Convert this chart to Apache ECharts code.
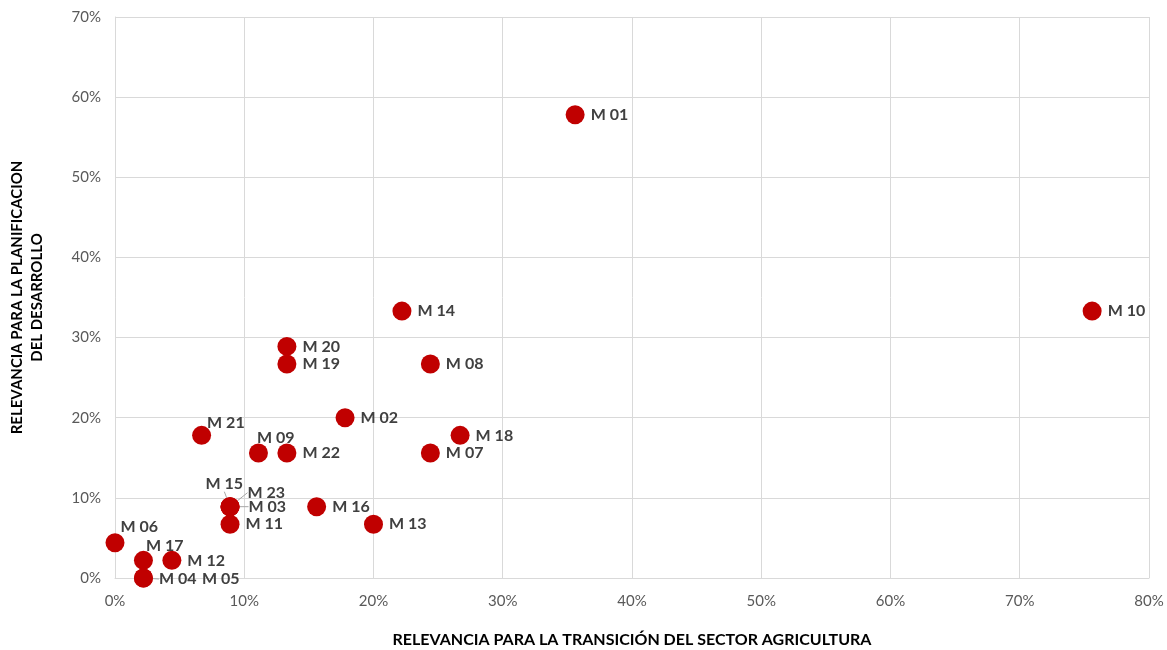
<!DOCTYPE html>
<html><head><meta charset="utf-8">
<script src="https://cdn.jsdelivr.net/npm/echarts@6/dist/echarts.min.js"></script>
<style>html,body{margin:0;padding:0;background:#fff}#c{width:1167px;height:650px}</style>
</head><body><div id="c"></div>
<script>
const names = ['M 01','M 02','M 03','M 04','M 05','M 06','M 07','M 08','M 09','M 10','M 11','M 12','M 13','M 14','M 15','M 16','M 17','M 18','M 19','M 20','M 21','M 22','M 23'];
const xVals = [0.356,0.178,0.089,0.022,0.022,0.000,0.244,0.244,0.111,0.756,0.089,0.044,0.200,0.222,0.089,0.156,0.022,0.267,0.133,0.133,0.067,0.133,0.089];
const yVals = [0.578,0.200,0.089,0.000,0.000,0.044,0.156,0.267,0.156,0.333,0.067,0.022,0.067,0.333,0.089,0.089,0.022,0.178,0.267,0.289,0.178,0.156,0.089];
const xTicks = [0,0.1,0.2,0.3,0.4,0.5,0.6,0.7,0.8];
const yTicks = [0,0.1,0.2,0.3,0.4,0.5,0.6,0.7];

// label offsets (style): left edge of text relative to point center, vertical middle
const labelOffsets = {
  'M 21':[5,-13], 'M 09':[-2,-15], 'M 06':[5,-16], 'M 17':[2,-15],
  'M 15':[-25,-23], 'M 23':[17,-14], 'M 03':[18,0], 'M 04':[15,1], 'M 05':[58,1]
};
const withLine = {'M 15':1,'M 23':1,'M 03':1,'M 04':1};

const data = names.map((n,i)=>({
  name:n, value:[xVals[i], yVals[i]],
  labelLine: withLine[n] ? {show:true, lineStyle:{color:'#a6a6a6', width:1}} : {show:false}
}));

const pct = v => Math.round(v*100)+'%';
const chart = echarts.init(document.getElementById('c'));
chart.setOption({
  animation:false,
  grid:{left:115, right:18, top:17, bottom:72, containLabel:false, outerBoundsMode:'none'},
  xAxis:{
    type:'value', min:xTicks[0], max:xTicks[xTicks.length-1], interval:0.1,
    name:'RELEVANCIA PARA LA TRANSICIÓN DEL SECTOR AGRICULTURA',
    nameLocation:'middle', nameGap:54,
    nameTextStyle:{fontFamily:'Lato', fontWeight:'bold', fontSize:16, color:'#000'},
    axisLine:{show:true, lineStyle:{color:'#d9d9d9'}},
    axisTick:{show:false},
    splitLine:{show:true, lineStyle:{color:'#d9d9d9'}},
    axisLabel:{formatter:pct, color:'#595959', fontFamily:'Lato', fontSize:15, margin:16}
  },
  yAxis:{
    type:'value', min:yTicks[0], max:yTicks[yTicks.length-1], interval:0.1,
    name:'RELEVANCIA PARA LA PLANIFICACION\nDEL DESARROLLO',
    nameLocation:'middle', nameGap:68, nameRotate:90,
    nameTextStyle:{fontFamily:'Lato', fontWeight:'bold', fontSize:15, color:'#000', lineHeight:20},
    axisLine:{show:true, lineStyle:{color:'#d9d9d9'}},
    axisTick:{show:false},
    splitLine:{show:true, lineStyle:{color:'#d9d9d9'}},
    axisLabel:{formatter:pct, color:'#595959', fontFamily:'Lato', fontSize:15, margin:14}
  },
  series:[{
    type:'scatter', symbolSize:19,
    itemStyle:{color:'#C00000', opacity:1},
    label:{show:true, position:'right', distance:6, formatter:'{b}',
      fontFamily:'Lato', fontWeight:'bold', fontSize:16, color:'#404040'},
    labelLayout:function(p){
      const o = labelOffsets[names[p.dataIndex]];
      if(!o) return {};
      return {dx:o[0]-15, dy:o[1]};
    },
    data:data
  }]
});
</script></body></html>
